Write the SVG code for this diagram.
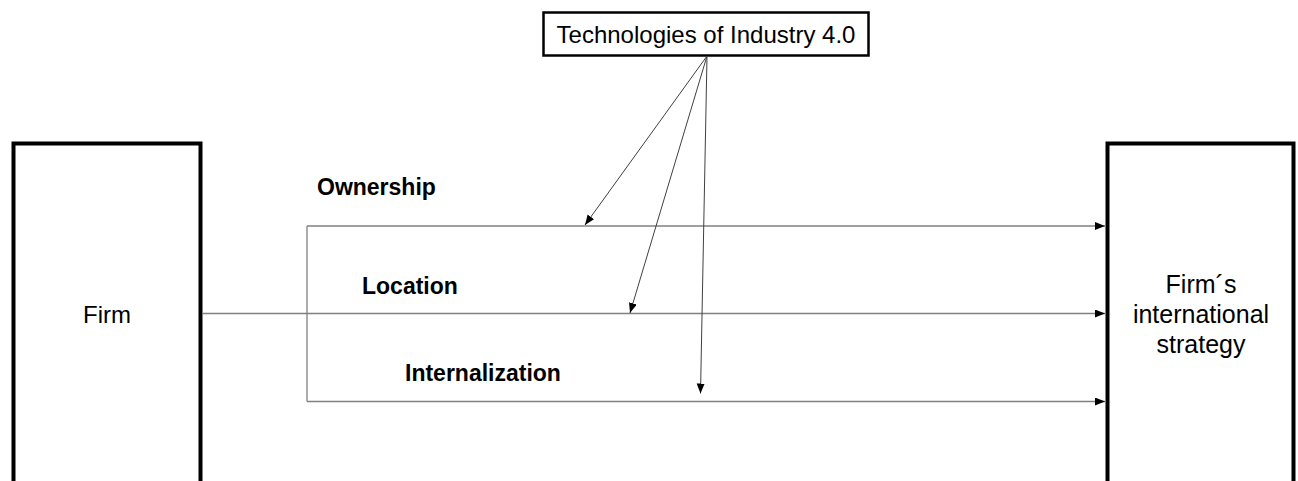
<svg xmlns="http://www.w3.org/2000/svg" width="1298" height="481" viewBox="0 0 1298 481">
  <style>
    .box { fill: #ffffff; stroke: #000000; stroke-width: 4; }
    .tbox { fill: #ffffff; stroke: #000000; stroke-width: 2.5; }
    .txt { font-family: "Liberation Sans", Arial, sans-serif; font-size: 24px; fill: #000000; }
    .big { font-size: 25px; }
    .lbl { font-family: "Liberation Sans", Arial, sans-serif; font-size: 23px; font-weight: bold; fill: #000000; }
    .flow { fill: none; stroke: #808080; stroke-width: 1.3; }
    .tech { fill: none; stroke: #404040; stroke-width: 1; }
  </style>
  <defs>
    <marker id="arr" markerUnits="userSpaceOnUse" markerWidth="11" markerHeight="9" refX="10" refY="4" orient="auto">
      <path d="M0,0 L10,4 L0,8 z" fill="#000000"/>
    </marker>
  </defs>
  <rect width="1298" height="481" fill="#ffffff"/>

  <g id="firm">
    <rect class="box" x="13.5" y="143.5" width="187" height="360"/>
    <text class="txt" x="107" y="323" text-anchor="middle">Firm</text>
  </g>

  <g id="strategy">
    <rect class="box" x="1107.5" y="143.5" width="186" height="360"/>
    <text class="txt big" x="1201" y="293" text-anchor="middle">Firm´s</text>
    <text class="txt big" x="1201" y="323" text-anchor="middle">international</text>
    <text class="txt big" x="1201" y="353" text-anchor="middle">strategy</text>
  </g>

  <g id="technologies">
    <rect class="tbox" x="543.5" y="12.5" width="325" height="43"/>
    <text class="txt" x="706" y="42.5" text-anchor="middle">Technologies of Industry 4.0</text>
  </g>

  <g id="labels">
    <text class="lbl" x="317" y="195">Ownership</text>
    <text class="lbl" x="362" y="294">Location</text>
    <text class="lbl" x="405" y="381">Internalization</text>
  </g>

  <g id="connectors">
    <path class="flow" d="M307,226 V401.5"/>
    <line class="flow" x1="307" y1="226" x2="1105" y2="226" marker-end="url(#arr)"/>
    <line class="flow" x1="202" y1="313.5" x2="1105" y2="313.5" marker-end="url(#arr)"/>
    <line class="flow" x1="307" y1="401.5" x2="1105" y2="401.5" marker-end="url(#arr)"/>
    <line class="tech" x1="707" y1="56" x2="585" y2="225" marker-end="url(#arr)"/>
    <line class="tech" x1="707" y1="56" x2="630" y2="313" marker-end="url(#arr)"/>
    <line class="tech" x1="707" y1="56" x2="700.5" y2="393.5" marker-end="url(#arr)"/>
  </g>
</svg>
